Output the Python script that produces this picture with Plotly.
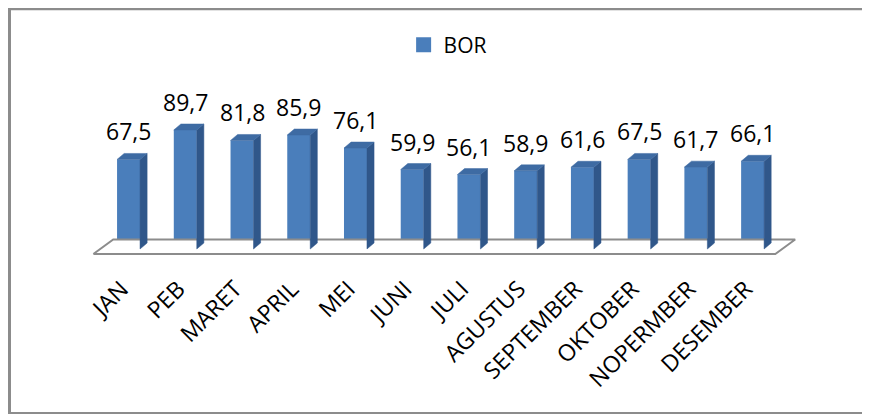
import plotly.graph_objects as go

months = ["JAN", "PEB", "MARET", "APRIL", "MEI", "JUNI", "JULI", "AGUSTUS",
          "SEPTEMBER", "OKTOBER", "NOPERMBER", "DESEMBER"]
bor = [67.5, 89.7, 81.8, 85.9, 76.1, 59.9, 56.1, 58.9, 61.6, 67.5, 61.7, 66.1]
labels = ["67,5", "89,7", "81,8", "85,9", "76,1", "59,9", "56,1", "58,9",
          "61,6", "67,5", "61,7", "66,1"]

# the page body adds an 8px margin, so the figure is drawn 8px in
W, H = 862, 407
ML, MR, MT, MB = 78, 72, 72, 145
XR = [-0.75, 11.8]
YR = [-15.83, 127.35]

FRONT = "#4A7EBB"
TOP = "#3E6BA3"
SIDE = "#30578A"
FONT = "Open Sans"

bw = 0.405
ddx = 0.125
ddy = 4.5
n = len(months)
xs = list(range(n))

fig = go.Figure()

# floor
fdx, fdy = 0.35, 11.0
fx = [-0.62, n - 0.6, n - 0.6 + fdx, -0.62 + fdx, -0.62]
fy = [-3.8, -3.8, -3.8 + fdy, -3.8 + fdy, -3.8]
fig.add_trace(go.Scatter(x=fx, y=fy, mode="lines", fill="toself",
                         fillcolor="white", line=dict(color="#8C8C8C", width=2),
                         hoverinfo="skip", showlegend=False))

# side and top faces of the bars
sx, sy, tx, ty = [], [], [], []
for i, v in zip(xs, bor):
    r = i + bw / 2
    l = i - bw / 2
    sx += [r, r + ddx, r + ddx, r, r, None]
    sy += [0, ddy, v + ddy, v, 0, None]
    tx += [l, r, r + ddx, l + ddx, l, None]
    ty += [v, v, v + ddy, v + ddy, v, None]
fig.add_trace(go.Scatter(x=sx, y=sy, mode="lines", fill="toself", fillcolor=SIDE,
                         line=dict(color=SIDE, width=0.5), hoverinfo="skip",
                         showlegend=False))
fig.add_trace(go.Scatter(x=tx, y=ty, mode="lines", fill="toself", fillcolor=TOP,
                         line=dict(color=TOP, width=0.5), hoverinfo="skip",
                         showlegend=False))

fig.add_trace(go.Bar(x=xs, y=bor, width=bw, base=0, name="BOR",
                     marker=dict(color=FRONT, line=dict(width=0)),
                     showlegend=False, hoverinfo="skip"))

# legend marker
fig.add_trace(go.Scatter(x=[None], y=[None], mode="markers", name="BOR",
                         marker=dict(symbol="square", size=15, color=FRONT)))

for i, v, t in zip(xs, bor, labels):
    fig.add_annotation(x=i, y=v, text=t, showarrow=False, yanchor="bottom",
                       xanchor="center", yshift=10,
                       font=dict(family=FONT, size=23, color="black"))

pw = W - ML - MR
ph = H - MT - MB


def px2paper_x(p):
    return (p - ML) / pw


def px2paper_y(p):
    return (H - MB - p) / ph


# chart border (left, top, bottom)
fig.add_shape(type="line", xref="paper", yref="paper",
              x0=px2paper_x(1.5), x1=px2paper_x(1.5),
              y0=px2paper_y(406), y1=px2paper_y(0),
              line=dict(color="#8C8C8C", width=3))
fig.add_shape(type="line", xref="paper", yref="paper",
              x0=px2paper_x(0), x1=px2paper_x(870),
              y0=px2paper_y(1), y1=px2paper_y(1),
              line=dict(color="#8C8C8C", width=2.5))
fig.add_shape(type="line", xref="paper", yref="paper",
              x0=px2paper_x(0), x1=px2paper_x(870),
              y0=px2paper_y(405), y1=px2paper_y(405),
              line=dict(color="#8C8C8C", width=2))

fig.update_layout(
    width=W, height=H,
    margin=dict(l=ML, r=MR, t=MT, b=MB, pad=0, autoexpand=False),
    paper_bgcolor="white", plot_bgcolor="white",
    showlegend=True,
    legend=dict(orientation="h", xref="container", yref="container",
                x=0.510, y=1 - 37 / H, xanchor="center", yanchor="middle",
                font=dict(family=FONT, size=21, color="black"),
                bgcolor="rgba(0,0,0,0)", itemwidth=30),
    xaxis=dict(range=XR, tickmode="array", tickvals=xs, ticktext=months,
               tickangle=-45, showgrid=False, zeroline=False, showline=False,
               ticks="", ticklabelshift=-7,
               tickfont=dict(family=FONT, size=23, color="black")),
    yaxis=dict(range=YR, visible=False, showgrid=False, zeroline=False),
)

fig.write_html("out.html")
